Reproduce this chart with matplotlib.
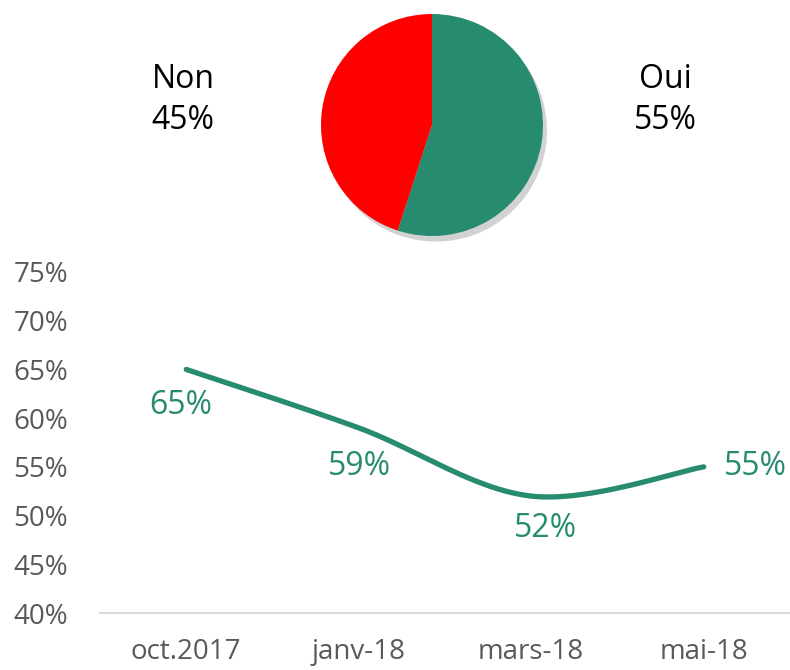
import numpy as np
import matplotlib
matplotlib.use("Agg")
import matplotlib.pyplot as plt
from matplotlib.patches import Shadow

plt.rcParams['font.family'] = ['Open Sans', 'DejaVu Sans']

# Data
pie_labels = ["Oui", "Non"]
pie_values = [55, 45]
pie_colors = ["#268B6F", "#FF0000"]

months = ["oct.2017", "janv-18", "mars-18", "mai-18"]
oui_values = [65, 59, 52, 55]
yticks = [40, 45, 50, 55, 60, 65, 70, 75]

GREEN = "#268B6F"
GRAY = "#595959"

fig = plt.figure(figsize=(7.9, 6.7), dpi=100)

# ---- Pie ----
axp = fig.add_axes([(432 - 115) / 790, 1 - (125 + 115) / 670, 230 / 790, 230 / 670])
wedges, _ = axp.pie(pie_values, colors=pie_colors, startangle=90, counterclock=False,
                    radius=111 / 115, wedgeprops=dict(linewidth=0))
for w in wedges:
    sh = Shadow(w, 0.025, -0.035, alpha=0.35, color="#7f7f7f", zorder=0)
    axp.add_patch(sh)
axp.set_xlim(-1, 1)
axp.set_ylim(-1, 1)
axp.set_aspect('equal')
axp.axis('off')

fig.text(183 / 790, 1 - 100 / 670, f"{pie_labels[1]}\n{pie_values[1]}%", ha='center', va='center',
         fontsize=23, color='black', linespacing=1.32)
fig.text(665 / 790, 1 - 100 / 670, f"{pie_labels[0]}\n{pie_values[0]}%", ha='center', va='center',
         fontsize=23, color='black', linespacing=1.32)

# ---- Line ----
ax = fig.add_axes([100 / 790, 1 - 613 / 670, 690 / 790, 341 / 670])
x = np.arange(len(months))
y = np.array(oui_values, dtype=float)

# Catmull-Rom style smoothing (Excel-like)
pts = np.column_stack([x, y])
ext = np.vstack([pts[0], pts, pts[-1]])
curve = []
t = np.linspace(0, 1, 60)
for i in range(len(pts) - 1):
    p0, p1, p2, p3 = ext[i], ext[i + 1], ext[i + 2], ext[i + 3]
    c1 = p1 + (p2 - p0) / 6
    c2 = p2 - (p3 - p1) / 6
    seg = ((1 - t) ** 3)[:, None] * p1 + (3 * (1 - t) ** 2 * t)[:, None] * c1 + \
          (3 * (1 - t) * t ** 2)[:, None] * c2 + (t ** 3)[:, None] * p2
    curve.append(seg if i == 0 else seg[1:])
curve = np.vstack(curve)
ax.plot(curve[:, 0], curve[:, 1], color=GREEN, lw=3.8, solid_capstyle='round')

offsets = [(-4.3, -26), (0.7, -27.5), (10, -23), (37, 0)]
for xi, yi, (dx, dy) in zip(x, y, offsets):
    ax.annotate(f"{int(yi)}%", (xi, yi), xytext=(dx, dy), textcoords='offset points',
                ha='center', va='center', fontsize=23, color=GREEN, annotation_clip=False)

ax.set_xlim(-0.5, len(months) - 0.5)
ax.set_ylim(40, 75)
ax.set_yticks(yticks)
ax.set_yticklabels([f"{v}%" for v in yticks], fontsize=20, color=GRAY)
ax.set_xticks(x)
ax.set_xticklabels(months, fontsize=20, color=GRAY)
ax.tick_params(axis='both', length=0)
ax.tick_params(axis='y', pad=23)
ax.tick_params(axis='x', pad=18)
for s in ['top', 'right', 'left']:
    ax.spines[s].set_visible(False)
ax.spines['bottom'].set_color('#D9D9D9')
ax.spines['bottom'].set_linewidth(1.5)
ax.patch.set_alpha(0)

fig.savefig("out.png", dpi=100)
